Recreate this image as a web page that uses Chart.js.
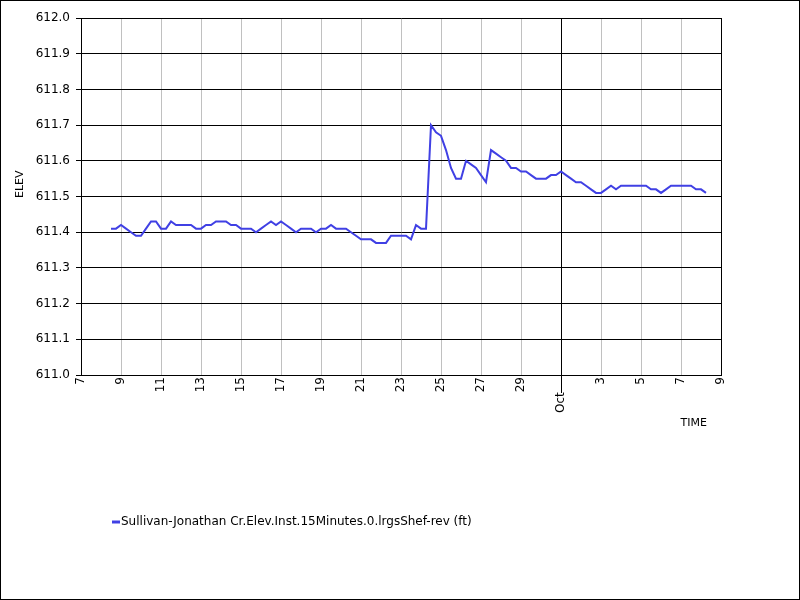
<!DOCTYPE html>
<html lang="en">
<head>
  <meta charset="UTF-8" />
  <title>Sullivan-Jonathan Cr. Elevation</title>
  <script src="https://cdn.jsdelivr.net/npm/chart.js@4.4.0/dist/chart.umd.min.js"></script>
  <style>
    html, body { margin: 0; padding: 0; background: #fff; }
    canvas { display: block; }
  </style>
</head>
<body>
  <canvas id="elevChart" width="800" height="600"></canvas>

  <script>
    // x is measured in days after Sep 7; readings are every 6 hours
    const startDay = 1.5;   // Sep 8, 12:00
    const stepDays = 0.25;

    const elev = [
      611.41, 611.41, 611.42, 611.41, 611.40, 611.39, 611.39, 611.41,
      611.43, 611.43, 611.41, 611.41, 611.43, 611.42, 611.42, 611.42,
      611.42, 611.41, 611.41, 611.42, 611.42, 611.43, 611.43, 611.43,
      611.42, 611.42, 611.41, 611.41, 611.41, 611.40, 611.41, 611.42,
      611.43, 611.42, 611.43, 611.42, 611.41, 611.40, 611.41, 611.41,
      611.41, 611.40, 611.41, 611.41, 611.42, 611.41, 611.41, 611.41,
      611.40, 611.39, 611.38, 611.38, 611.38, 611.37, 611.37, 611.37,
      611.39, 611.39, 611.39, 611.39, 611.38, 611.42, 611.41, 611.41,
      611.70, 611.68, 611.67, 611.63, 611.58, 611.55, 611.55, 611.60,
      611.59, 611.58, 611.56, 611.54, 611.63, 611.62, 611.61, 611.60,
      611.58, 611.58, 611.57, 611.57, 611.56, 611.55, 611.55, 611.55,
      611.56, 611.56, 611.57, 611.56, 611.55, 611.54, 611.54, 611.53,
      611.52, 611.51, 611.51, 611.52, 611.53, 611.52, 611.53, 611.53,
      611.53, 611.53, 611.53, 611.53, 611.52, 611.52, 611.51, 611.52,
      611.53, 611.53, 611.53, 611.53, 611.53, 611.52, 611.52, 611.51
    ];

    // one label per 2-day tick, Sep 7 .. Oct 9
    const xTickLabels = ['7', '9', '11', '13', '15', '17', '19', '21', '23', '25', '27', '29',
                         'Oct', '3', '5', '7', '9'];
    const monthTick = 12;   // index of the "Oct" tick

    const seriesLabel = 'Sullivan-Jonathan Cr.Elev.Inst.15Minutes.0.lrgsShef-rev (ft)';
    const lineColor = '#4040e4';

    const points = elev.map((v, i) => ({ x: startDay + i * stepDays, y: v }));

    // frame round the whole image plus the legend under the plot
    const framePlugin = {
      id: 'frame',
      afterDraw(chart) {
        const ctx = chart.ctx;
        ctx.save();
        ctx.strokeStyle = '#000';
        ctx.lineWidth = 1;
        ctx.strokeRect(0.5, 0.5, chart.width - 1, chart.height - 1);

        const ly = 522;
        ctx.strokeStyle = lineColor;
        ctx.lineWidth = 3;
        ctx.beginPath();
        ctx.moveTo(112, ly);
        ctx.lineTo(120, ly);
        ctx.stroke();
        ctx.fillStyle = '#000';
        ctx.font = '12px "DejaVu Sans"';
        ctx.textBaseline = 'middle';
        ctx.fillText(chart.data.datasets[0].label, 121, ly);
        ctx.restore();
      }
    };

    new Chart(document.getElementById('elevChart'), {
      type: 'line',
      data: {
        datasets: [{
          label: seriesLabel,
          data: points,
          borderColor: lineColor,
          borderWidth: 2,
          pointRadius: 0,
          tension: 0,
          fill: false
        }]
      },
      options: {
        responsive: false,
        animation: false,
        devicePixelRatio: 1,
        layout: { padding: { top: 18, right: 79, left: 0, bottom: 0 } },
        plugins: {
          legend: { display: false },
          tooltip: { enabled: false }
        },
        scales: {
          x: {
            type: 'linear',
            min: 0,
            max: 32,
            afterFit: (scale) => { scale.height = 225; },
            border: { display: true, color: '#000', width: 1 },
            grid: {
              color: (c) => (c.index === 0 || c.index === monthTick || c.index === xTickLabels.length - 1) ? '#000' : '#c0c0c0',
              lineWidth: 1,
              drawTicks: true,
              tickLength: 18,
              tickColor: (c) => c.index === monthTick ? '#000' : 'rgba(0,0,0,0)'
            },
            ticks: {
              stepSize: 2,
              autoSkip: false,
              minRotation: 90,
              maxRotation: 90,
              padding: -16,
              color: '#000',
              font: { family: 'DejaVu Sans', size: 12 },
              callback: (value, index) => index === monthTick ? xTickLabels[index] + '    ' : xTickLabels[index]
            },
            title: {
              display: true,
              text: 'TIME    ',
              align: 'end',
              color: '#000',
              font: { family: 'DejaVu Sans', size: 11 },
              padding: { top: 0, bottom: 170 }
            }
          },
          y: {
            min: 611.0,
            max: 612.0,
            afterFit: (scale) => { scale.width = 81; },
            border: { display: true, color: '#000', width: 1 },
            grid: {
              color: '#000',
              lineWidth: 1,
              drawTicks: true,
              tickLength: 5,
              tickColor: '#000'
            },
            ticks: {
              stepSize: 0.1,
              padding: 6,
              color: '#000',
              font: { family: 'DejaVu Sans', size: 12 },
              callback: (value) => value.toFixed(1)
            },
            title: {
              display: true,
              text: '       ELEV',
              color: '#000',
              font: { family: 'DejaVu Sans', size: 11 },
              padding: { top: 14, bottom: 0 }
            }
          }
        }
      },
      plugins: [framePlugin]
    });
  </script>
</body>
</html>
